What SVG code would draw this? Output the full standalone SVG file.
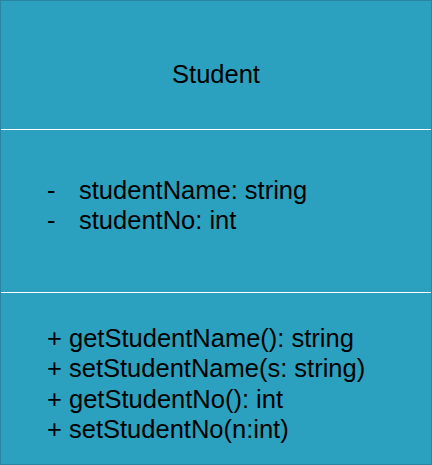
<svg xmlns="http://www.w3.org/2000/svg" width="432" height="465" viewBox="0 0 432 465">
<style>
.box{fill:#2ca1bf;stroke:#2b84a0;stroke-width:1}
.sep{stroke:#ffffff;stroke-width:1}
text{font-family:"Liberation Sans",Arial,sans-serif;font-size:25.5px;fill:#000}
</style>
<rect width="432" height="465" fill="#ffffff"/>
<g id="student">
<rect class="box" x="0.5" y="0.5" width="431" height="464"/>
<line class="sep" x1="1" y1="129.5" x2="431" y2="129.5"/>
<line class="sep" x1="1" y1="292.5" x2="431" y2="292.5"/>
<text x="216" y="83" text-anchor="middle">Student</text>
<text x="47" y="199">-</text>
<text x="79" y="199">studentName: string</text>
<text x="47" y="229.3">-</text>
<text x="79" y="229.3">studentNo: int</text>
<text x="47" y="346.8">+ getStudentName(): string</text>
<text x="47" y="377.2">+ setStudentName(s: string)</text>
<text x="47" y="407.7">+ getStudentNo(): int</text>
<text x="47" y="438.1">+ setStudentNo(n:int)</text>
</g>
<g id="connectors"></g>
</svg>
